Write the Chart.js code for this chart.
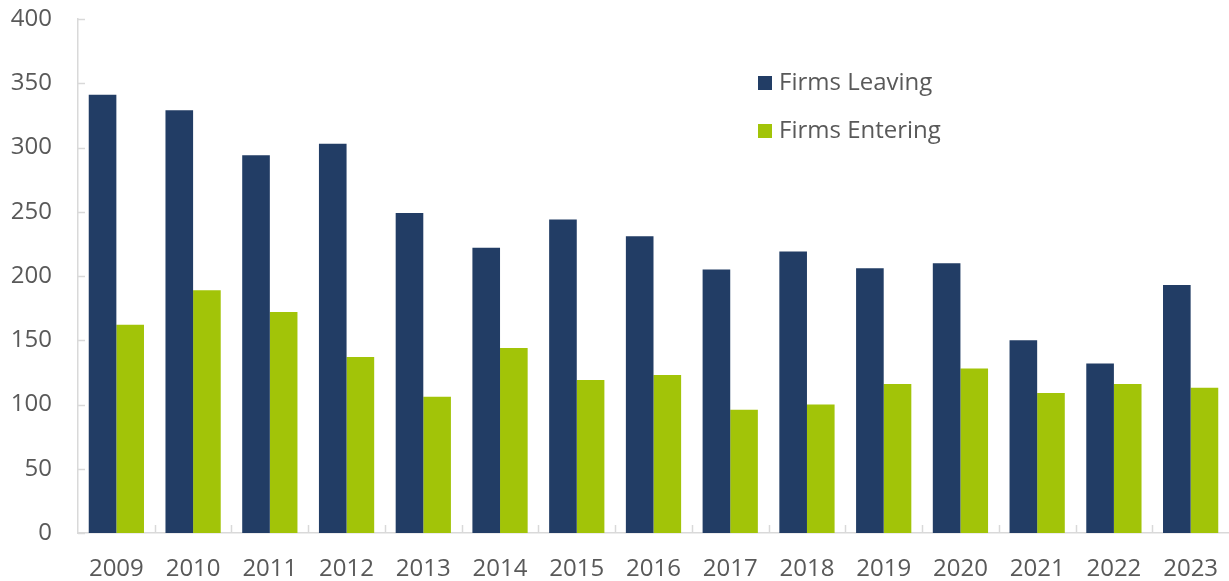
<!DOCTYPE html>
<html>
<head>
<meta charset="utf-8">
<script src="https://cdn.jsdelivr.net/npm/chart.js@4.4.1/dist/chart.umd.min.js"></script>
<style>
  html, body { margin: 0; padding: 0; background: #fff; }
  #wrap { width: 1229px; height: 581px; position: relative; }
</style>
</head>
<body>
<div id="wrap"><canvas id="chart"></canvas></div>
<script>
const years = ["2009", "2010", "2011", "2012", "2013", "2014", "2015", "2016", "2017", "2018", "2019", "2020", "2021", "2022", "2023"];
const firmsLeaving = [341, 329, 294, 303, 249, 222, 244, 231, 205, 219, 206, 210, 150, 132, 193];
const firmsEntering = [162, 189, 172, 137, 106, 144, 119, 123, 96, 100, 116, 128, 109, 116, 113];
const yTicks = [0, 50, 100, 150, 200, 250, 300, 350, 400];

const axisColor = "#d9d9d9";
const textColor = "#595959";
const fontFamily = "'Open Sans', sans-serif";

// short tick marks drawn inside the plot, plus the legend inside the plot area
const innerTicks = {
  id: "innerTicks",
  afterDraw(chart) {
    const { ctx, chartArea, scales } = chart;
    const x = scales.x, y = scales.y;
    ctx.save();
    ctx.strokeStyle = axisColor;
    ctx.lineWidth = 1.5;
    ctx.beginPath();
    y.ticks.forEach(t => {
      const py = Math.round(y.getPixelForValue(t.value)) + 0.5;
      ctx.moveTo(chartArea.left, py);
      ctx.lineTo(chartArea.left + 7, py);
    });
    const half = (x.getPixelForValue(1) - x.getPixelForValue(0)) / 2;
    for (let i = 1; i < years.length; i++) {
      const px = Math.round(x.getPixelForValue(i) - half) + 0.5;
      ctx.moveTo(px, chartArea.bottom);
      ctx.lineTo(px, chartArea.bottom - 8);
    }
    ctx.stroke();

    ctx.font = "24px " + fontFamily;
    ctx.textBaseline = "middle";
    chart.data.datasets.forEach((ds, i) => {
      const top = 76 + i * 48;
      ctx.fillStyle = ds.backgroundColor;
      ctx.fillRect(758, top, 14, 14);
      ctx.fillStyle = textColor;
      ctx.fillText(ds.label, 779, top + 7);
    });
    ctx.restore();
  }
};

new Chart(document.getElementById("chart"), {
  type: "bar",
  data: {
    labels: years,
    datasets: [
      { label: "Firms Leaving", data: firmsLeaving, backgroundColor: "#223d65" },
      { label: "Firms Entering", data: firmsEntering, backgroundColor: "#a2c408" }
    ]
  },
  options: {
    responsive: true,
    maintainAspectRatio: false,
    animation: false,
    layout: { padding: { top: 19, right: 0, left: 0, bottom: 0 } },
    plugins: { legend: { display: false }, tooltip: { enabled: false } },
    datasets: { bar: { categoryPercentage: 0.72, barPercentage: 1 } },
    scales: {
      x: {
        grid: { display: false, drawTicks: false },
        border: { color: axisColor, width: 1.5 },
        ticks: { color: textColor, font: { family: fontFamily, size: 24 }, padding: 22 },
        afterFit(s) { s.height = 48; s.paddingLeft = 0; s.paddingRight = 0; }
      },
      y: {
        min: 0,
        max: 400,
        afterBuildTicks(s) { s.ticks = yTicks.map(v => ({ value: v })); },
        grid: { display: false, drawTicks: false },
        border: { color: axisColor, width: 1.5 },
        ticks: { color: textColor, font: { family: fontFamily, size: 24 }, padding: 26 },
        afterFit(s) { s.width = 78; s.paddingTop = 0; s.paddingBottom = 0; }
      }
    }
  },
  plugins: [innerTicks]
});
</script>
</body>
</html>
